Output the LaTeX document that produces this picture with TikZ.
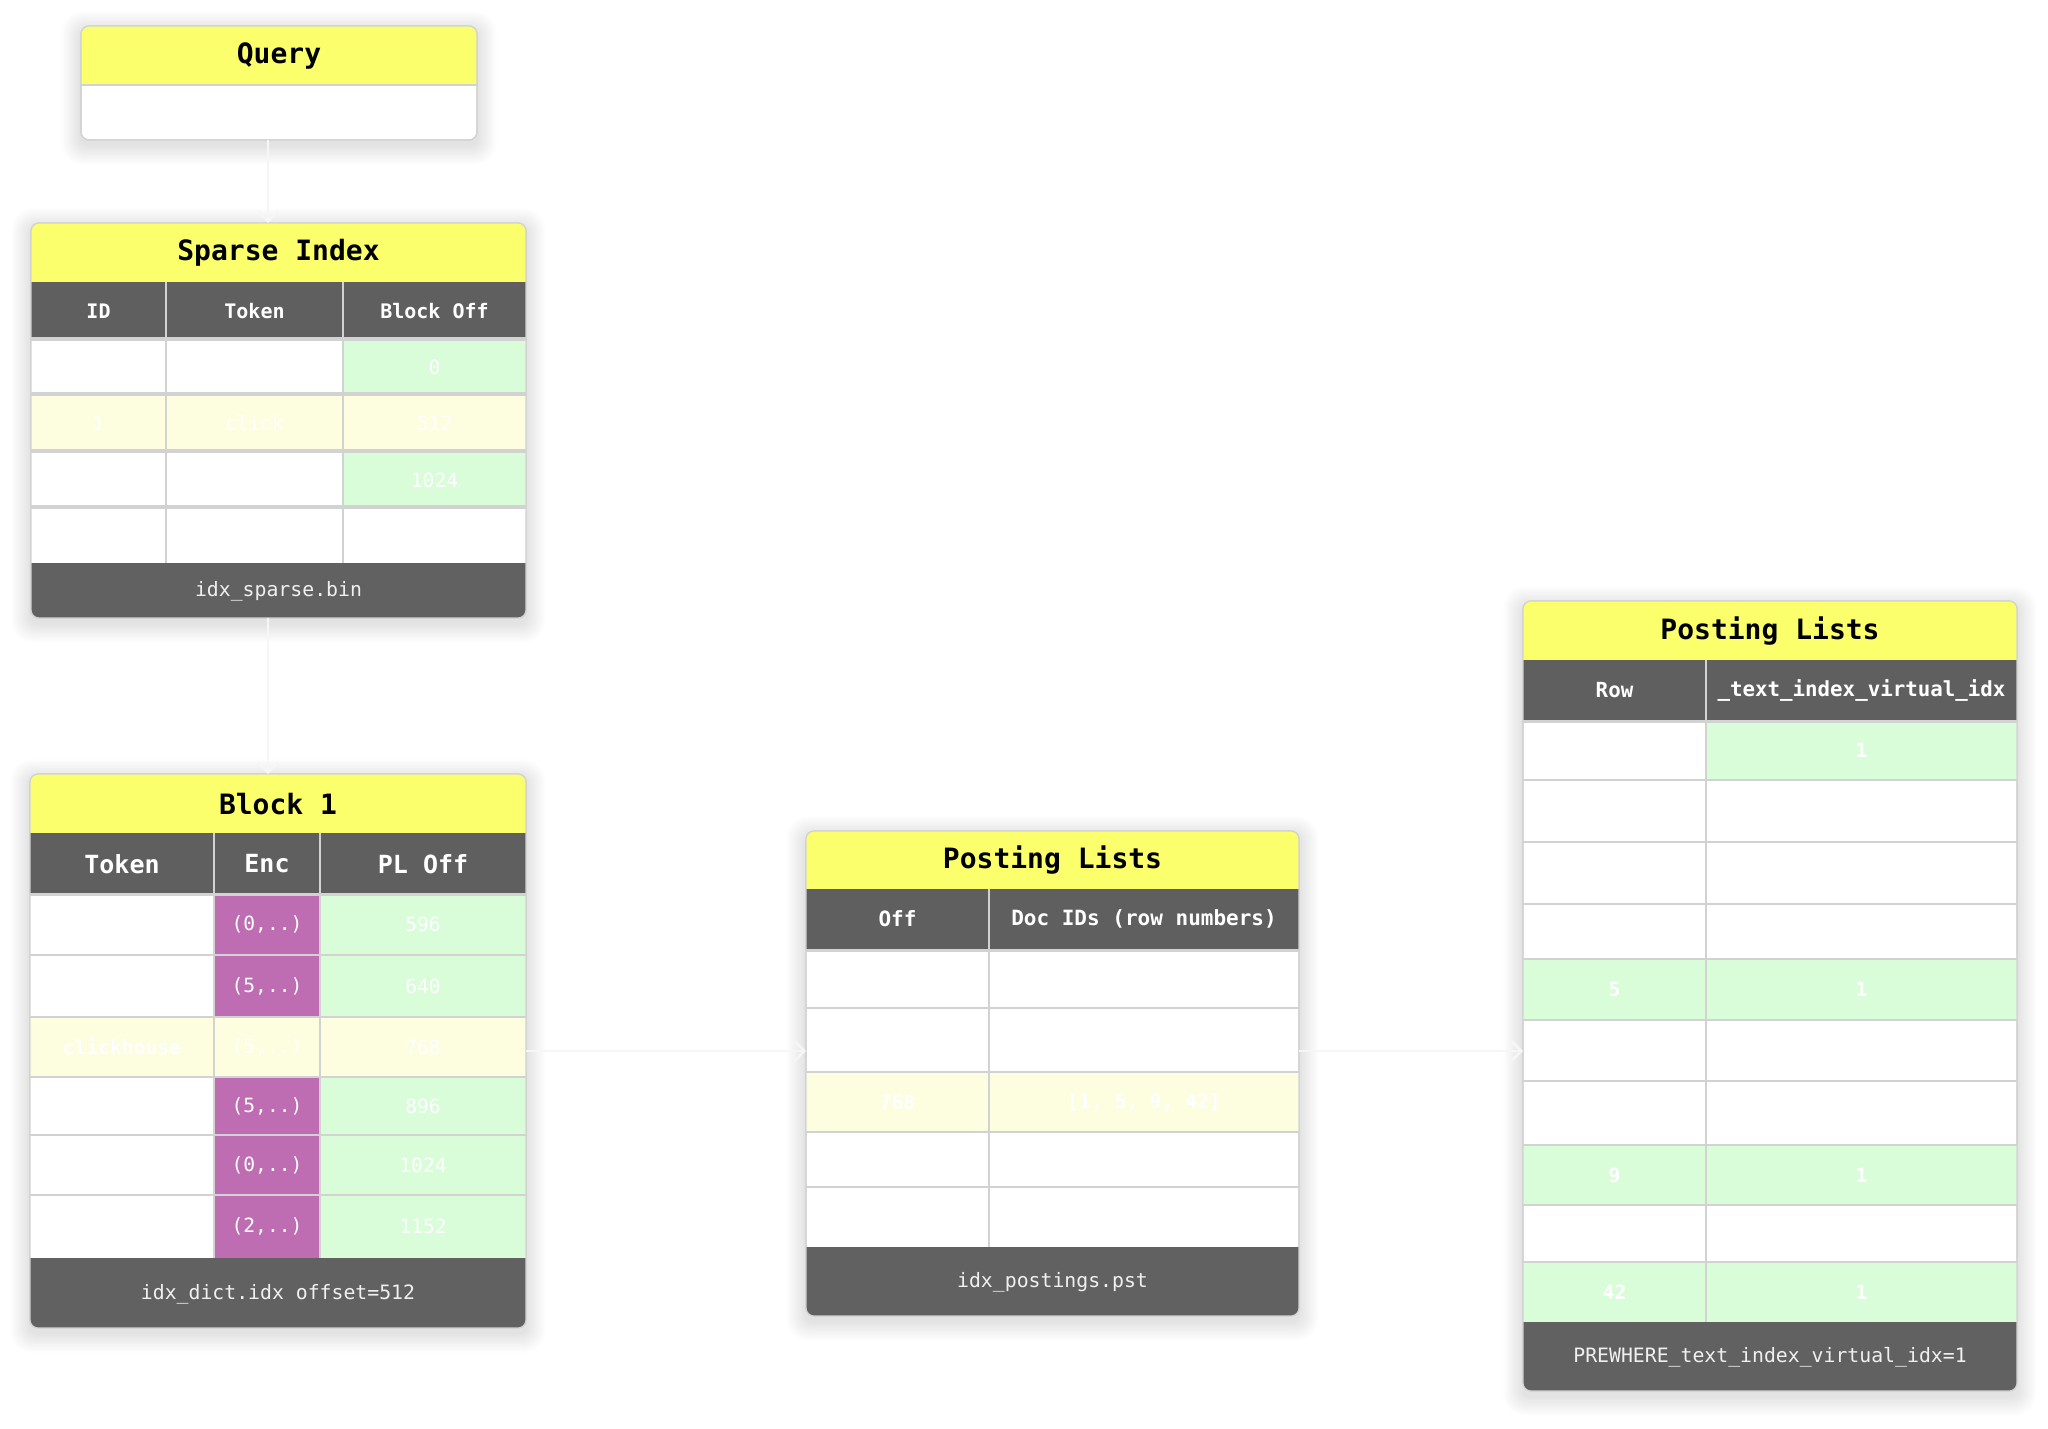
\documentclass[tikz,border=0pt]{standalone}
\usepackage{fontspec}
\setmainfont{DejaVu Sans}
\setsansfont{DejaVu Sans}
\setmonofont{DejaVu Sans Mono}
\usetikzlibrary{arrows.meta}
\definecolor{ttl}{HTML}{FAFF6B}
\definecolor{hdr}{HTML}{5F5F5F}
\definecolor{ftr}{HTML}{616161}
\definecolor{grn}{HTML}{D9FDD9}
\definecolor{hil}{HTML}{FDFDE0}
\definecolor{pur}{HTML}{BF6DB3}
\definecolor{brd}{HTML}{D2D2D2}
\definecolor{conncol}{HTML}{F6F6F6}
\definecolor{ftxt}{HTML}{F0F0F0}
\newcommand{\tdots}{...}
\newcommand{\softshade}[4]{%
  \foreach \k in {1,...,14} {
    \fill[black, opacity=0.009, rounded corners={4pt+0.5*\k pt}]
      ({#1-\k*1.4},{#2-\k*1.4+5}) rectangle ({#3+\k*1.4},{#4+\k*1.4+5});
  }}
\tikzset{
  boxst/.style={draw=brd, fill=white, line width=0.6pt, rounded corners=4pt,
    inner sep=0pt, outer sep=0pt, anchor=north west},
  rimst/.style={draw=brd, line width=0.6pt, rounded corners=4pt},
  gridst/.style={draw=brd, line width=0.9pt},
  ttltxt/.style={font=\ttfamily\bfseries\fontsize{14}{16}\selectfont, text=black, inner sep=0pt},
  hdrtxt/.style={font=\ttfamily\bfseries\fontsize{10}{12}\selectfont, text=white, inner sep=0pt},
  hdrbig/.style={font=\ttfamily\bfseries\fontsize{12.5}{14}\selectfont, text=white, inner sep=0pt},
  celltxt/.style={font=\ttfamily\fontsize{9.8}{12}\selectfont, text=white, inner sep=0pt},
  cellbold/.style={font=\ttfamily\bfseries\fontsize{9.8}{12}\selectfont, text=white, inner sep=0pt},
  foottxt/.style={font=\ttfamily\fontsize{9.9}{12}\selectfont, text=ftxt, inner sep=0pt},
  lbltxt/.style={font=\sffamily\bfseries\fontsize{10}{13}\selectfont, text=white, inner sep=0pt, align=center},
  connst/.style={draw=conncol, line width=1.2pt, -{Straight Barb[length=5pt,width=10pt,line width=1.2pt]}}
}
\begin{document}
\begin{tikzpicture}[x=0.5pt,y=-0.5pt]
\useasboundingbox[fill=white] (0,0) rectangle (2048,1428);

% shadows
\softshade{81}{26}{477}{140}
\softshade{31}{223}{526}{618}
\softshade{30}{774}{526}{1328}
\softshade{806}{831}{1299}{1316}
\softshade{1523}{601}{2017}{1391}

% ---------------- Query ----------------
\node[boxst, minimum width=198pt, minimum height=57pt] (query) at (81,26) {};
\begin{scope}
  \clip[rounded corners=4pt] (81,26) rectangle (477,140);
  \fill[ttl] (81,26) rectangle (477,85);
  \draw[brd, line width=1.2pt] (81,85) -- (477,85);
\end{scope}
\draw[rimst] (81,26) rectangle (477,140);
\node[ttltxt] (qtitle) at (279,56) {Query};
\node[cellbold] (qtext) at (279,113) {hasToken(doc, 'clickhouse')};

% ---------------- Sparse Index ----------------
\node[boxst, minimum width=247.5pt, minimum height=197.5pt] (sparse) at (31,223) {};
\begin{scope}
  \clip[rounded corners=4pt] (31,223) rectangle (526,618);
  \fill[ttl] (31,223) rectangle (526,282);
  \fill[hdr] (31,282) rectangle (526,338);
  \fill[white] (31,338) rectangle (343,394);
  \fill[grn] (343,338) rectangle (526,394);
  \fill[hil] (31,394) rectangle (526,451);
  \fill[white] (31,451) rectangle (343,507);
  \fill[grn] (343,451) rectangle (526,507);
  \fill[white] (31,507) rectangle (526,563);
  \fill[ftr] (31,563) rectangle (526,618);
  \draw[gridst] (166,282) -- (166,563);
  \draw[gridst] (343,282) -- (343,563);
  \draw[brd, line width=2pt] (31,339) -- (526,339);
  \draw[brd, line width=1.8pt] (31,394) -- (526,394);
  \draw[brd, line width=1.8pt] (31,451) -- (526,451);
  \draw[brd, line width=1.8pt] (31,507) -- (526,507);
\end{scope}
\draw[rimst] (31,223) rectangle (526,618);
\node[ttltxt] (stitle) at (278.5,253) {Sparse Index};
\node[hdrtxt] (sh1) at (98.5,311) {ID};
\node[hdrtxt] (sh2) at (254.5,311) {Token};
\node[hdrtxt] (sh3) at (434.5,311) {Block Off};
\node[celltxt] (s11) at (98.5,367) {0};
\node[celltxt] (s12) at (254.5,367) {battery};
\node[celltxt] (s13) at (434.5,367) {0};
\node[celltxt] (s21) at (98.5,423) {1};
\node[celltxt] (s22) at (254.5,423) {click};
\node[celltxt] (s23) at (434.5,423) {512};
\node[celltxt] (s31) at (98.5,480) {2};
\node[celltxt] (s32) at (254.5,480) {database};
\node[celltxt] (s33) at (434.5,480) {1024};
\node[foottxt] (sfoot) at (278.5,591) {idx\_sparse.bin};

% ---------------- Block 1 ----------------
\node[boxst, minimum width=248pt, minimum height=277pt] (block) at (30,774) {};
\begin{scope}
  \clip[rounded corners=4pt] (30,774) rectangle (526,1328);
  \fill[ttl] (30,774) rectangle (526,833);
  \fill[hdr] (30,833) rectangle (526,893);
  \foreach \yt/\yb in {893/955, 955/1017, 1077/1135, 1135/1195, 1195/1258} {
    \fill[white] (30,\yt) rectangle (214,\yb);
    \fill[pur] (214,\yt) rectangle (320,\yb);
    \fill[grn] (320,\yt) rectangle (526,\yb);
  }
  \fill[hil] (30,1017) rectangle (526,1077);
  \fill[ftr] (30,1258) rectangle (526,1328);
  \draw[gridst] (214,833) -- (214,1258);
  \draw[gridst] (320,833) -- (320,1258);
  \draw[brd, line width=1.5pt] (30,894) -- (526,894);
  \foreach \yy in {955,1017,1077,1135,1195} {
    \draw[gridst] (30,\yy) -- (526,\yy);
  }
\end{scope}
\draw[rimst] (30,774) rectangle (526,1328);
\node[ttltxt] (btitle) at (278,804) {Block 1};
\node[hdrbig] (bh1) at (122,864) {Token};
\node[hdrbig] (bh2) at (267,864) {Enc};
\node[hdrbig] (bh3) at (423,864) {PL Off};
\foreach \yc/\ta/\tb/\tc [count=\i] in {924/click/{(0,..)}/596, 986/clickbench/{(5,..)}/640, 1106/clickstream/{(5,..)}/896, 1165/cloud/{(0,..)}/1024, 1226.5/cluster/{(2,..)}/1152} {
  \node[celltxt] (b\i a) at (122,\yc) {\ta};
  \node[celltxt] (b\i b) at (267,\yc) {\tb};
  \node[celltxt] (b\i c) at (423,\yc) {\tc};
}
\node[cellbold] (bha) at (122,1047) {clickhouse};
\node[celltxt] (bhb) at (267,1047) {(5,..)};
\node[celltxt] (bhc) at (423,1047) {768};
\node[foottxt] (bfoot) at (278,1294) {idx\_dict.idx offset=512};

% ---------------- Posting Lists (middle) ----------------
\node[boxst, minimum width=246.5pt, minimum height=242.5pt] (post) at (806,831) {};
\begin{scope}
  \clip[rounded corners=4pt] (806,831) rectangle (1299,1316);
  \fill[ttl] (806,831) rectangle (1299,889);
  \fill[hdr] (806,889) rectangle (1299,949);
  \fill[hil] (806,1072) rectangle (1299,1132);
  \fill[ftr] (806,1247) rectangle (1299,1316);
  \draw[gridst] (989,889) -- (989,1247);
  \draw[brd, line width=1.5pt] (806,950) -- (1299,950);
  \foreach \yy in {1008,1072,1132,1187} {
    \draw[gridst] (806,\yy) -- (1299,\yy);
  }
\end{scope}
\draw[rimst] (806,831) rectangle (1299,1316);
\node[ttltxt] (ptitle) at (1052.5,860) {Posting Lists};
\node[hdrtxt, font=\ttfamily\bfseries\fontsize{10.5}{12}\selectfont] (ph1) at (897.5,919) {Off};
\node[hdrtxt, font=\ttfamily\bfseries\fontsize{10.5}{12}\selectfont] (ph2) at (1144,919) {Doc IDs (row numbers)};
\foreach \yc/\ta/\tb [count=\i] in {978.5/596/{[2, 11, 24]}, 1040/640/{[3]}, 1159.5/896/{[7]}, 1217/\tdots/\tdots} {
  \node[celltxt] (p\i a) at (897.5,\yc) {\ta};
  \node[celltxt] (p\i b) at (1144,\yc) {\tb};
}
\node[cellbold] (pha) at (897.5,1102) {768};
\node[cellbold] (phb) at (1144,1102) {[1, 5, 9, 42]};
\node[foottxt] (pfoot) at (1052.5,1282) {idx\_postings.pst};

% ---------------- Posting Lists (right) ----------------
\node[boxst, minimum width=247pt, minimum height=395pt] (res) at (1523,601) {};
\begin{scope}
  \clip[rounded corners=4pt] (1523,601) rectangle (2017,1391);
  \fill[ttl] (1523,601) rectangle (2017,660);
  \fill[hdr] (1523,660) rectangle (2017,720);
  \fill[grn] (1706,720) rectangle (2017,780);
  \fill[grn] (1523,959) rectangle (2017,1020);
  \fill[grn] (1523,1145) rectangle (2017,1205);
  \fill[grn] (1523,1262) rectangle (2017,1322);
  \fill[ftr] (1523,1322) rectangle (2017,1391);
  \draw[gridst] (1706,660) -- (1706,1322);
  \draw[brd, line width=1.5pt] (1523,721) -- (2017,721);
  \foreach \yy in {780,842,904,959,1020,1081,1145,1205,1262} {
    \draw[gridst] (1523,\yy) -- (2017,\yy);
  }
\end{scope}
\draw[rimst] (1523,601) rectangle (2017,1391);
\node[ttltxt] (rtitle) at (1770,631) {Posting Lists};
\node[hdrtxt, font=\ttfamily\bfseries\fontsize{10.4}{12}\selectfont] (rh1) at (1614.5,690) {Row};
\node[hdrtxt, font=\ttfamily\bfseries\fontsize{10.4}{12}\selectfont] (rh2) at (1861.5,690) {\_text\_index\_virtual\_idx};
\foreach \yc/\ta/\tb [count=\i] in {750/1/1, 811/2/0, 873/3/0, 931.5/4/0, 989.5/5/1, 1050.5/6/0, 1113/\tdots/\tdots, 1175/9/1, 1233.5/\tdots/\tdots, 1292/42/1} {
  \node[cellbold] (r\i a) at (1614.5,\yc) {\ta};
  \node[cellbold] (r\i b) at (1861.5,\yc) {\tb};
}
\node[foottxt] (rfoot) at (1770,1357) {PREWHERE\_text\_index\_virtual\_idx=1};

% ---------------- Connectors ----------------
\draw[connst] ([xshift=-5.5pt]query.south) -- ([xshift=-5.25pt]sparse.north);
\draw[connst] ([xshift=-5.25pt]sparse.south) -- ([xshift=-5pt]block.north);
\node[lbltxt] (lbl1) at (387,692) {offset=512\\(sequential read)};
\draw[connst] (block.east) -- (block.east -| post.west);
\node[lbltxt] (lbl2) at (667,1083) {PL Off=768};
\draw[connst] (block.east -| post.east) -- (block.east -| res.west);
\node[lbltxt] (lbl3) at (1407,1114) {set matching\\rows to 1};
\end{tikzpicture}
\end{document}
